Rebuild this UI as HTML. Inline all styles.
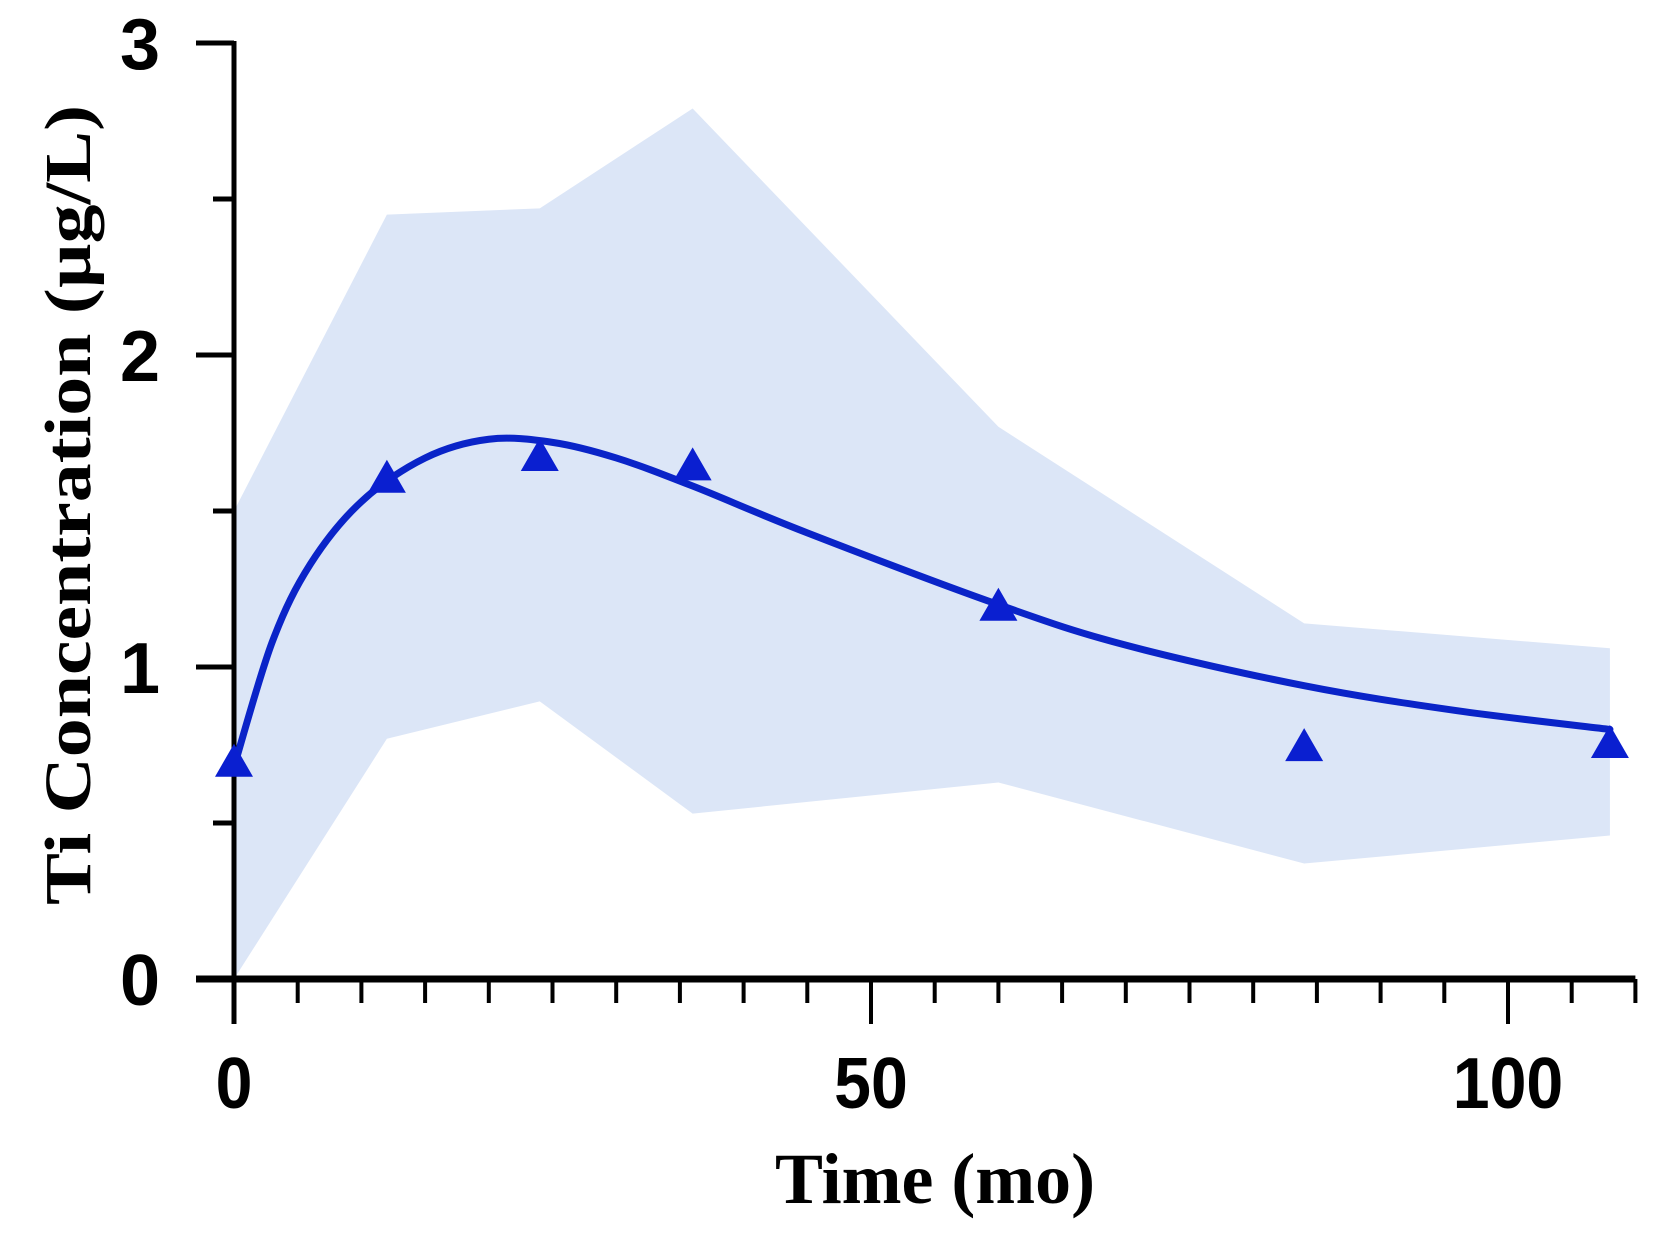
<!DOCTYPE html>
<html><head><meta charset="utf-8"><style>
html,body{margin:0;padding:0;background:#fff;}
svg{display:block;}
</style></head><body>
<svg id="chart" width="1659" height="1233" viewBox="0 0 1659 1233" xmlns="http://www.w3.org/2000/svg">
<g id="band"></g>
<g id="axes"></g>
<g id="series"></g>
<text x="935" y="1203" text-anchor="middle" font-family="Liberation Serif, serif" font-weight="bold" font-size="72" textLength="320" lengthAdjust="spacingAndGlyphs">Time (mo)</text>
<text transform="translate(90,505) rotate(-90)" text-anchor="middle" font-family="Liberation Serif, serif" font-weight="bold" font-size="66" textLength="800" lengthAdjust="spacingAndGlyphs">Ti Concentration (µg/L)</text>
</svg>
<script>
const times = [0, 12, 24, 36, 60, 84, 108];
const meanValues = [0.69, 1.60, 1.67, 1.64, 1.19, 0.74, 0.75];
const upperValues = [1.50, 2.45, 2.47, 2.79, 1.77, 1.14, 1.06];
const lowerValues = [0.00, 0.77, 0.89, 0.53, 0.63, 0.37, 0.46];
const fitTimes = [0, 3, 6, 10, 15, 20, 25, 30, 36, 45, 60, 70, 84, 96, 108];
const fitValues = [0.68, 1.08, 1.33, 1.53, 1.67, 1.73, 1.72, 1.67, 1.58, 1.43, 1.20, 1.07, 0.94, 0.86, 0.80];
const xTickLabels = [0, 50, 100];
const yTickLabels = [0, 1, 2, 3];

const X0 = 234, XS = 12.74, Y0 = 979, YS = 312;
const sx = v => X0 + v * XS;
const sy = v => Y0 - v * YS;
const NS = 'http://www.w3.org/2000/svg';
function mk(tag, attrs, parent) {
  const e = document.createElementNS(NS, tag);
  for (const k in attrs) e.setAttribute(k, attrs[k]);
  parent.appendChild(e);
  return e;
}
const band = document.getElementById('band');
const axes = document.getElementById('axes');
const series = document.getElementById('series');

let pts = times.map((t, i) => sx(t) + ',' + sy(upperValues[i]));
for (let i = times.length - 1; i >= 0; i--) pts.push(sx(times[i]) + ',' + sy(lowerValues[i]));
const poly = mk('polygon', {points: pts.join(' '), fill: '#dce6f7'}, band);



const yAxis = mk('line', {x1: X0, y1: sy(3) - 2, x2: X0, y2: Y0 + 45, stroke: '#000', 'stroke-width': 5}, axes);


const xAxis = mk('line', {x1: X0 - 38, y1: Y0, x2: sx(110), y2: Y0, stroke: '#000', 'stroke-width': 7}, axes);


for (let v = 0; v <= 3; v += 0.5) {
  const major = Number.isInteger(v);
  const t = mk('line', {x1: X0 - (major ? 38 : 21), y1: sy(v), x2: X0, y2: sy(v), stroke: '#000', 'stroke-width': 5}, axes);
  
  
}
yTickLabels.forEach(v => {
  const t = mk('text', {x: 160, y: sy(v) + 26, 'text-anchor': 'end', 'font-family': 'Liberation Sans, sans-serif', 'font-weight': 'bold', 'font-size': 72}, axes);
  t.textContent = v;
  
  
});
for (let v = 5; v <= 110; v += 5) {
  const major = v % 50 === 0;
  const t = mk('line', {x1: sx(v), y1: Y0, x2: sx(v), y2: Y0 + (major ? 45 : 24), stroke: '#000', 'stroke-width': 4}, axes);
  
  
}
xTickLabels.forEach(v => {
  const t = mk('text', {x: 0, y: 0, 'text-anchor': 'middle', 'font-family': 'Liberation Sans, sans-serif', 'font-weight': 'bold', 'font-size': 72, transform: `translate(${sx(v)},1108) scale(0.92,1)`}, axes);
  t.textContent = v;
  
  
});

const P = fitTimes.map((t, i) => [sx(t), sy(fitValues[i])]);
let d = 'M' + P[0][0] + ',' + P[0][1];
for (let i = 0; i < P.length - 1; i++) {
  const p0 = P[Math.max(i - 1, 0)], p1 = P[i], p2 = P[i + 1], p3 = P[Math.min(i + 2, P.length - 1)];
  const c1 = [p1[0] + (p2[0] - p0[0]) / 6, p1[1] + (p2[1] - p0[1]) / 6];
  const c2 = [p2[0] - (p3[0] - p1[0]) / 6, p2[1] - (p3[1] - p1[1]) / 6];
  d += ' C' + c1.join(',') + ' ' + c2.join(',') + ' ' + p2.join(',');
}
const curve = mk('path', {d: d, fill: 'none', stroke: '#0a24c8', 'stroke-width': 7, 'stroke-linecap': 'round'}, series);



times.forEach((t, i) => {
  const cx = sx(t), cy = sy(meanValues[i]);
  const m = mk('polygon', {points: `${cx},${cy - 20} ${cx - 19},${cy + 13} ${cx + 19},${cy + 13}`, fill: '#0a1fd0'}, series);
  
  
});
</script>
</body></html>
